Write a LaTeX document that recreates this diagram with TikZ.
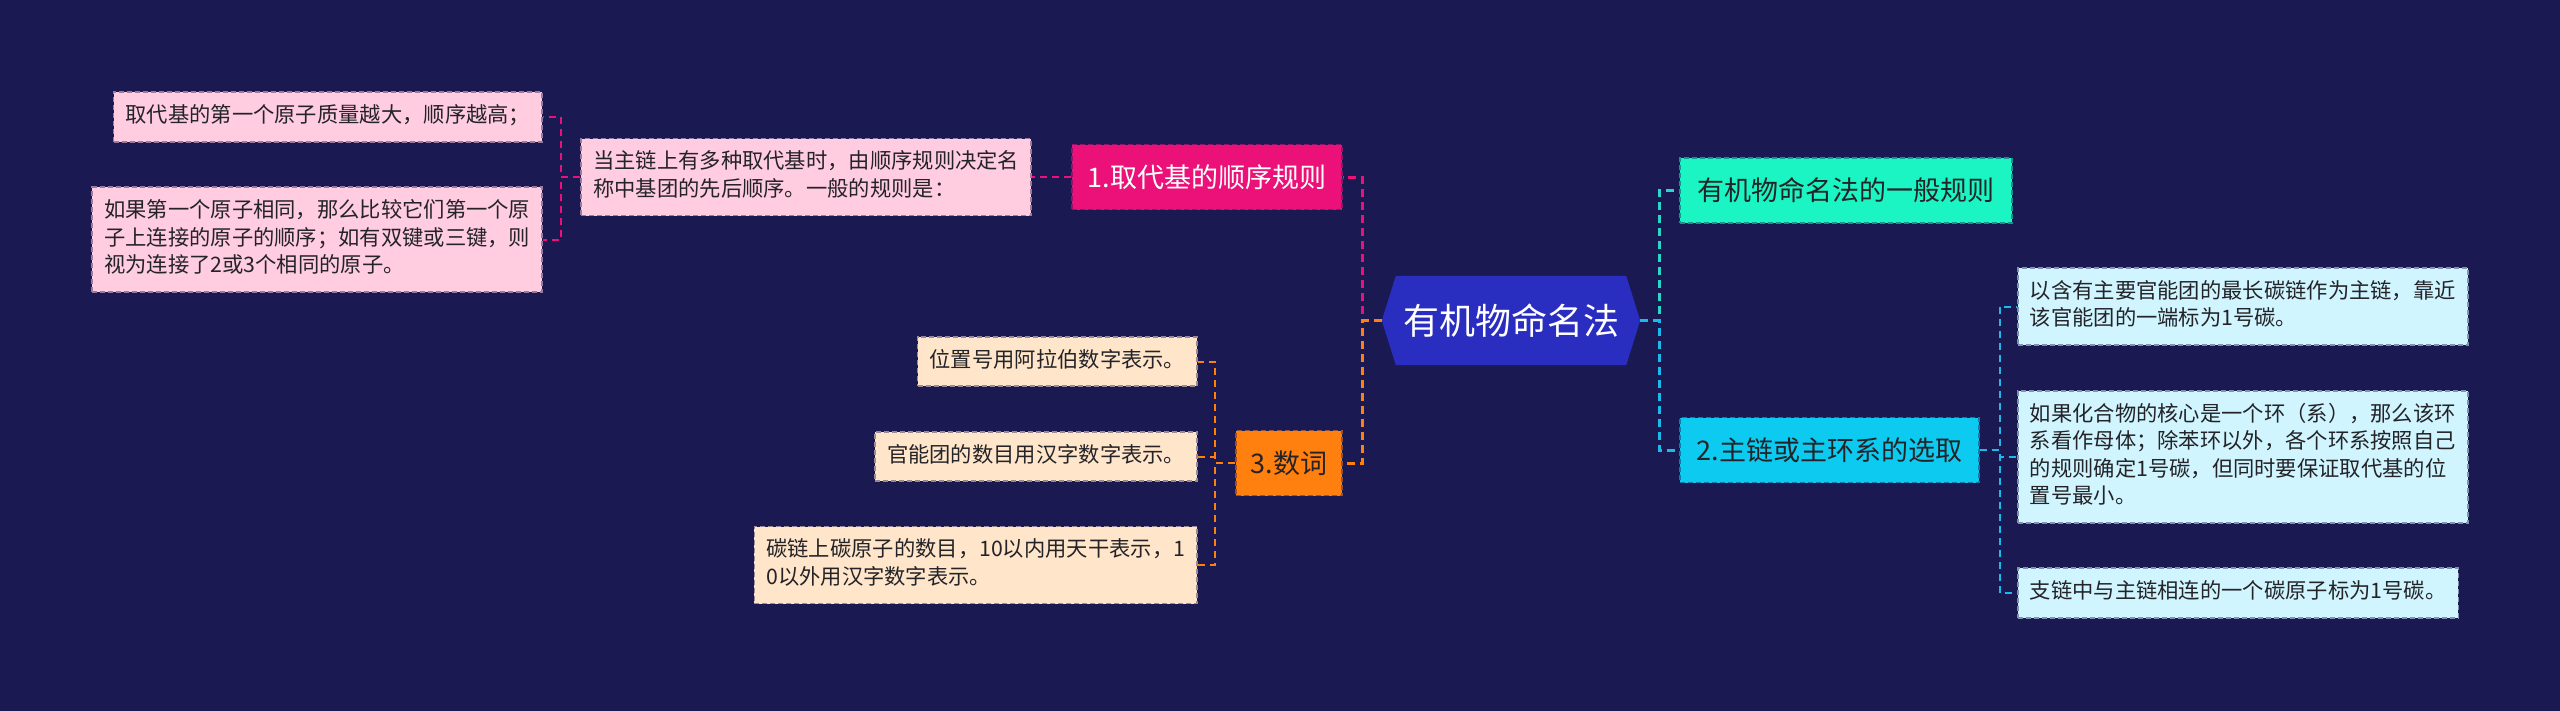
\documentclass[tikz,border=0pt]{standalone}
\usepackage{fontspec}
\newfontfamily\cjk{Noto Sans CJK SC}
\usetikzlibrary{backgrounds}
\definecolor{bg}{RGB}{27,25,82}
\definecolor{hexc}{RGB}{42,46,192}
\definecolor{mag}{RGB}{236,17,120}
\definecolor{pinkleaf}{RGB}{255,204,224}
\definecolor{orn}{RGB}{255,127,15}
\definecolor{ornleaf}{RGB}{255,229,201}
\definecolor{tealn}{RGB}{26,245,195}
\definecolor{tealc}{RGB}{40,215,200}
\definecolor{cyann}{RGB}{12,202,240}
\definecolor{cyanc}{RGB}{30,185,235}
\definecolor{cyanleaf}{RGB}{208,245,255}
\definecolor{darktxt}{RGB}{35,35,40}
\tikzset{
  leafbox/.style={fill=#1, draw=#1!55!bg, line width=1.6pt, dash pattern=on 5pt off 3pt,
    inner xsep=12pt, inner ysep=11pt, align=left, text=darktxt,
    font=\cjk\fontsize{21.3}{27.5}\selectfont},
  branchbox/.style={fill=#1, draw=#1!55!bg, line width=1.6pt, dash pattern=on 5pt off 3pt,
    inner xsep=15pt, inner ysep=0pt, minimum height=65pt, text=darktxt,
    font=\cjk\fontsize{27}{32}\selectfont},
  mainconn/.style={draw=#1, line width=3pt, dash pattern=on 8pt off 5pt},
  leafconn/.style={draw=#1, line width=2pt, dash pattern=on 7pt off 5pt},
}
\begin{document}
\begin{tikzpicture}[x=1pt,y=-1pt]
\useasboundingbox (0,0) rectangle (2560,710);
% root
\node[minimum width=258pt, minimum height=89pt, inner sep=0pt, text=white,
  font=\cjk\fontsize{36}{40}\selectfont] (root) at (1511,320.5) {有机物命名法};
% branch 1
\node[branchbox=mag, text=white, minimum width=270pt, anchor=east] (n1) at (1343,177) {1.取代基的顺序规则};
\node[leafbox=pinkleaf, anchor=east] (pm) at (1032,177)
  {\strut 当主链上有多种取代基时，由顺序规则决定名\\\strut 称中基团的先后顺序。一般的规则是：};
\node[leafbox=pinkleaf, anchor=east] (pl1) at (543,117) {\strut 取代基的第一个原子质量越大，顺序越高；};
\node[leafbox=pinkleaf, anchor=east] (pl2) at (543,239.5)
  {\strut 如果第一个原子相同，那么比较它们第一个原\\\strut 子上连接的原子的顺序；如有双键或三键，则\\\strut 视为连接了2或3个相同的原子。};
% branch 3
\node[branchbox=orn, minimum width=106pt, anchor=east] (num) at (1343,463) {3.数词};
\node[leafbox=ornleaf, anchor=east] (ol1) at (1198,361.5) {\strut 位置号用阿拉伯数字表示。};
\node[leafbox=ornleaf, anchor=east] (ol2) at (1198,456.5) {\strut 官能团的数目用汉字数字表示。};
\node[leafbox=ornleaf, anchor=east] (ol3) at (1198,565)
  {\strut 碳链上碳原子的数目，10以内用天干表示，1\\\strut 0以外用汉字数字表示。};
% right branches
\node[branchbox=tealn, minimum width=332pt, anchor=west] (gen) at (1679,190.5) {有机物命名法的一般规则};
\node[branchbox=cyann, minimum width=299pt, anchor=west] (mainb) at (1679,450) {2.主链或主环系的选取};
\node[leafbox=cyanleaf, anchor=west] (rl1) at (2017,306.5)
  {\strut 以含有主要官能团的最长碳链作为主链，靠近\\\strut 该官能团的一端标为1号碳。};
\node[leafbox=cyanleaf, anchor=west] (rl2) at (2017,457)
  {\strut 如果化合物的核心是一个环（系），那么该环\\\strut 系看作母体；除苯环以外，各个环系按照自己\\\strut 的规则确定1号碳，但同时要保证取代基的位\\\strut 置号最小。};
\node[leafbox=cyanleaf, anchor=west] (rl3) at (2017,593) {\strut 支链中与主链相连的一个碳原子标为1号碳。};
% background and hexagon
\begin{scope}[on background layer]
\fill[bg] (-10,-10) rectangle (2570,720);
\fill[hexc] (root.west) -- ([xshift=14pt]root.north west) -- ([xshift=-14pt]root.north east)
  -- (root.east) -- ([xshift=-14pt]root.south east) -- ([xshift=14pt]root.south west) -- cycle;
\end{scope}
% main connectors
\draw[mainconn=mag] (root.west) -- ++(-19,0) |- (n1.east);
\draw[mainconn=orn] (root.west) -- ++(-19,0) |- (num.east);
\draw[mainconn=tealc] (root.east) -- ++(19,0) |- (gen.west);
\draw[mainconn=cyanc] (root.east) -- ++(19,0) |- (mainb.west);
% leaf connectors
\draw[leafconn=mag] (n1.west) -- (pm.east);
\draw[leafconn=mag] (pm.west) -- ++(-19,0) |- (pl1.east);
\draw[leafconn=mag] (pm.west) -- ++(-19,0) |- (pl2.east);
\draw[leafconn=orn] (num.west) -- ++(-20,0) |- (ol1.east);
\draw[leafconn=orn] (num.west) -- ++(-20,0) |- (ol2.east);
\draw[leafconn=orn] (num.west) -- ++(-20,0) |- (ol3.east);
\draw[leafconn=cyanc] (mainb.east) -- ++(20,0) |- (rl1.west);
\draw[leafconn=cyanc] (mainb.east) -- ++(20,0) |- (rl2.west);
\draw[leafconn=cyanc] (mainb.east) -- ++(20,0) |- (rl3.west);
\end{tikzpicture}
\end{document}
